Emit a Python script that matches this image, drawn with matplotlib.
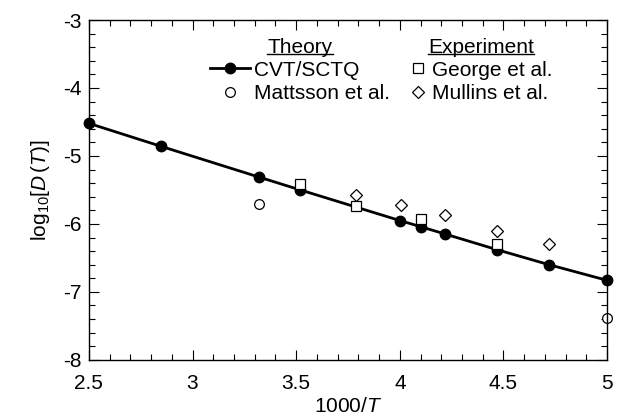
import matplotlib
matplotlib.use("Agg")
import matplotlib.pyplot as plt
from matplotlib.ticker import MultipleLocator
from matplotlib.lines import Line2D

plt.rcParams['font.family'] = ['Liberation Sans', 'DejaVu Sans']
plt.rcParams['mathtext.fontset'] = 'custom'
plt.rcParams['mathtext.rm'] = 'Liberation Sans'
plt.rcParams['mathtext.it'] = 'Liberation Sans:italic'

# CVT/SCTQ theory
cvt_x = [2.50, 2.85, 3.32, 3.52, 4.00, 4.10, 4.22, 4.47, 4.72, 5.00]
cvt_y = [-4.52, -4.86, -5.31, -5.50, -5.95, -6.04, -6.15, -6.38, -6.60, -6.83]

# Mattsson et al.
matt_x = [3.32, 5.00]
matt_y = [-5.70, -7.38]

# George et al.
george_x = [3.52, 3.79, 4.10, 4.47]
george_y = [-5.41, -5.74, -5.93, -6.30]

# Mullins et al.
mullins_x = [3.79, 4.005, 4.22, 4.47, 4.72]
mullins_y = [-5.58, -5.72, -5.87, -6.10, -6.30]

fig = plt.figure(figsize=(6.17, 4.17), dpi=100)
ax = fig.add_axes([0.144, 0.137, 0.840, 0.815])

open_kw = dict(linestyle='none', markerfacecolor='white', markeredgecolor='black',
               markeredgewidth=0.9)

h_cvt, = ax.plot(cvt_x, cvt_y, '-o', color='black', lw=2.0, ms=7.5, clip_on=False,
                 label='CVT/SCTQ')
h_matt, = ax.plot(matt_x, matt_y, marker='o', ms=7, clip_on=False,
                  label='Mattsson et al.', **open_kw)
h_geo, = ax.plot(george_x, george_y, marker='s', ms=7, clip_on=False,
                 label='George et al.', **open_kw)
h_mul, = ax.plot(mullins_x, mullins_y, marker='D', ms=6, clip_on=False,
                 label='Mullins et al.', **open_kw)

ax.set_xlim(2.5, 5)
ax.set_ylim(-8, -3)
ax.xaxis.set_minor_locator(MultipleLocator(0.1))
ax.yaxis.set_minor_locator(MultipleLocator(0.2))
ax.set_xticks([2.5, 3, 3.5, 4, 4.5, 5], ['2.5', '3', '3.5', '4', '4.5', '5'])
ax.set_yticks([-8, -7, -6, -5, -4, -3], ['-8', '-7', '-6', '-5', '-4', '-3'])
ax.tick_params(which='both', direction='in', top=True, right=True, width=0.8,
               labelsize=15)
ax.tick_params(which='major', length=7)
ax.tick_params(which='minor', length=4)
ax.tick_params(axis='x', which='major', pad=10)
ax.tick_params(axis='y', which='major', pad=5)
for s in ax.spines.values():
    s.set_linewidth(1.0)

ax.set_xlabel(r'1000/$T$', fontsize=15, labelpad=3)
ax.set_ylabel(r'log$_{10}$[$D\,$($T$)]', fontsize=15, labelpad=8)

leg1 = ax.legend(handles=[h_cvt, h_matt], title='Theory',
                 loc='upper left', bbox_to_anchor=(0.21, 0.985), frameon=False,
                 fontsize=15, title_fontsize=15, handlelength=1.9, handletextpad=0.2,
                 labelspacing=0.2, borderpad=0.1)
ax.add_artist(leg1)
leg2 = ax.legend(handles=[h_geo, h_mul], title='Experiment',
                 loc='upper left', bbox_to_anchor=(0.595, 0.985), frameon=False,
                 fontsize=15, title_fontsize=15, handlelength=0.8, handletextpad=0.25,
                 labelspacing=0.2, borderpad=0.1)

# underline the two legend titles
fig.canvas.draw()
inv = fig.transFigure.inverted()
for leg in (leg1, leg2):
    bb = leg.get_title().get_window_extent().transformed(inv)
    yline = bb.y0 + 0.15 * bb.height
    fig.add_artist(Line2D([bb.x0, bb.x1], [yline, yline], color='black', lw=1.0,
                          transform=fig.transFigure))

fig.savefig('out.png', dpi=100)
